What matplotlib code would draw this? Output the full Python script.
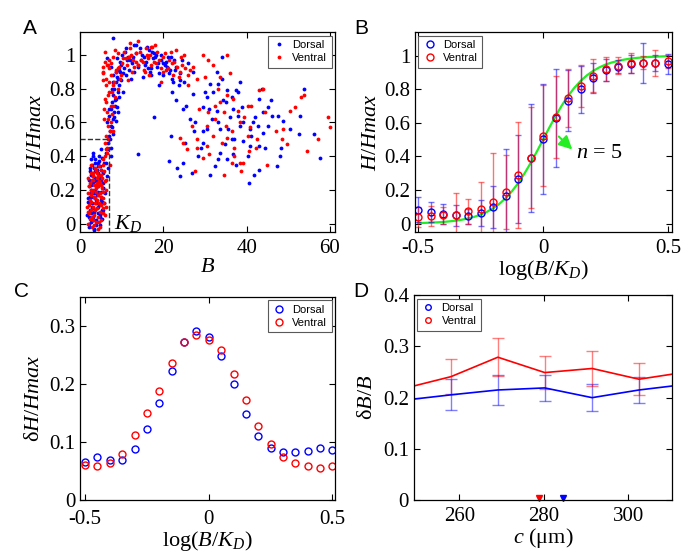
import matplotlib
matplotlib.use('Agg')
import matplotlib.pyplot as plt

plt.rcParams['font.family'] = 'serif'
plt.rcParams['font.serif'] = ['Liberation Serif', 'DejaVu Serif']
plt.rcParams['mathtext.fontset'] = 'custom'
plt.rcParams['mathtext.rm'] = 'Liberation Serif'
plt.rcParams['mathtext.it'] = 'Liberation Serif:italic'
plt.rcParams['mathtext.bf'] = 'Liberation Serif:bold'

# ---- panel A: scatter of H/Hmax against B ----
dorsal_B = [2.1, 2.5, 3.0, 3.4, 3.9, 4.3, 4.8, 5.2, 2.3, 2.8, 3.3, 3.7, 4.1, 4.6, 5.0, 5.5,
            2.0, 2.6, 3.1, 3.6, 4.0, 4.4, 4.9, 5.4, 2.2, 2.7, 3.2, 3.8, 4.2, 4.7, 5.1, 5.6,
            2.4, 2.9, 3.5, 4.5, 3.0, 3.6, 4.2, 2.6, 4.8, 5.3, 3.3, 2.1, 6.0, 5.8,
            1.7, 2.2, 2.7, 3.2, 3.7, 4.2, 4.7, 5.2, 5.7, 1.9, 2.4, 2.9, 3.4, 3.9, 4.4, 4.9, 5.4,
            2.1, 2.6, 3.1, 3.6, 4.1, 4.6, 5.1, 5.6, 2.3, 2.8, 3.3, 3.8, 4.3, 4.8, 5.3,
            2.5, 3.0, 3.5, 4.0, 4.5, 5.0, 3.2, 4.1,
            6.2, 6.6, 6.9, 7.2, 6.5, 7.5, 7.0, 7.8, 7.3, 8.1, 7.6, 8.4, 7.9, 8.7, 8.2, 9.0,
            8.5, 9.3, 7.4, 8.0,
            6.3, 6.8, 7.1, 7.7, 8.2, 8.8, 9.4, 9.8, 7.9, 8.6, 6.7, 7.3, 8.9, 9.6, 10.2, 7.0, 8.3, 9.1, 6.4, 7.6,
            7.5, 8.5, 9.5, 10.5, 11.5, 12.5, 13.5, 14.5, 15.5, 16.5, 17.5, 18.5, 19.5, 20.5,
            21.5, 22.5, 9, 10, 11, 12, 13, 14, 15, 16, 17, 18, 19, 20, 21, 22, 23, 24, 25, 26,
            6.5, 8, 13, 17, 11, 19, 7.8, 24.5, 27,
            8.8, 9.8, 10.8, 11.8, 12.8, 13.8, 14.8, 15.8, 16.8, 17.8, 18.8, 19.8, 20.8, 21.8, 22.8, 23.8,
            10.3, 12.3, 14.3, 16.3, 18.3, 20.3, 22.3, 9.3, 11.3, 13.3, 15.3, 17.3, 19.3, 21.3,
            14, 17.8, 21.4, 21.8, 23.2, 24, 24.6, 25.3, 26.8, 28.2, 27.4, 26.4, 24.8, 23, 22, 24, 27.2,
            53.8, 57.6, 56.1, 52.5, 48.2, 50.5, 48.8, 47.6, 48.0, 47.2, 45.8, 45.2, 43.6, 43.0,
            44.0, 45.2, 43.8, 42.8, 41.6, 40.8, 40.6, 41.8, 43.0, 40.2, 40.8, 39.2, 38.4, 38.0,
            38.8, 38.4, 37.4, 36.4, 36.8, 36.0, 35.6, 36.4, 36.6, 34.8, 35.2, 33.2, 32.4, 31.2,
            34.0, 32.8, 33.2, 32.0, 31.2, 30.4, 29.6, 31.6, 30.4, 29.6, 32.8, 33.6, 34.4, 35.2,
            25.5, 27.5, 29, 31, 33, 35, 37, 39, 41, 43, 30, 34, 38, 42, 46, 29.5, 33.5, 37.5, 44.5, 52.8]
dorsal_H = [-0.02, 0.01, 0.04, -0.03, 0.02, 0.06, -0.01, 0.03, 0.08, 0.10, 0.07, 0.12, 0.09, 0.11, 0.14, 0.08,
            0.15, 0.18, 0.16, 0.20, 0.17, 0.22, 0.19, 0.24, 0.26, 0.23, 0.28, 0.25, 0.30, 0.27, 0.32, 0.21,
            0.33, 0.35, 0.31, 0.37, 0.40, 0.38, 0.34, 0.29, 0.05, 0.13, -0.04, 0.04, 0.18, 0.36,
            0.05, 0.00, 0.06, 0.02, -0.01, 0.10, 0.04, 0.08, 0.12, 0.13, 0.16, 0.12, 0.18, 0.14, 0.19, 0.16, 0.21,
            0.22, 0.20, 0.24, 0.27, 0.25, 0.29, 0.26, 0.30, 0.31, 0.29, 0.33, 0.31, 0.36, 0.34, 0.39,
            0.38, 0.42, 0.36, 0.32, 0.40, 0.44, 0.09, 0.01,
            0.42, 0.48, 0.52, 0.55, 0.60, 0.58, 0.64, 0.62, 0.68, 0.66, 0.72, 0.70, 0.76, 0.74, 0.80, 0.78,
            0.84, 0.82, 0.45, 0.88,
            0.36, 0.44, 0.50, 0.57, 0.63, 0.69, 0.75, 0.85, 0.53, 0.61, 0.33, 0.40, 0.87, 0.90, 0.78, 0.68, 0.73, 0.66, 0.28, 0.80,
            0.93, 0.90, 0.96, 0.92, 0.99, 0.95, 1.01, 0.97, 0.94, 1.03, 0.98, 0.93, 1.00, 0.96,
            0.91, 0.97, 0.86, 1.00, 0.88, 0.97, 0.90, 0.94, 0.87, 1.05, 0.92, 0.99, 0.89, 0.95, 0.99, 0.86, 0.93, 0.89, 0.84, 0.95,
            0.98, 1.10, 1.06, 0.88, 1.04, 0.82, 0.84, 0.97, 0.90,
            0.98, 0.94, 1.02, 0.91, 0.99, 0.93, 1.00, 0.96, 0.90, 1.01, 0.95, 0.88, 0.93, 0.99, 0.91, 0.82,
            0.89, 0.86, 1.04, 0.92, 1.00, 0.94, 0.84, 0.91, 0.97, 1.06, 0.99, 1.02, 0.97, 0.89,
            0.41, 0.63, 0.37, 0.52, 0.33, 0.28, 0.36, 0.48, 0.30, 0.40, 0.55, 0.62, 0.68, 0.73, 0.78, 0.85, 0.77,
            0.80, 0.39, 0.53, 0.53, 0.45, 0.56, 0.61, 0.64, 0.40, 0.34, 0.73, 0.69, 0.80, 0.74,
            0.66, 0.58, 0.54, 0.58, 0.60, 0.56, 0.24, 0.29, 0.32, 0.40, 0.46, 0.49, 0.58, 0.64,
            0.69, 0.84, 0.79, 0.75, 0.68, 0.63, 0.56, 0.50, 0.41, 0.47, 0.38, 0.38, 0.34, 0.29,
            0.99, 0.90, 0.83, 0.78, 0.83, 0.75, 0.69, 0.62, 0.56, 0.48, 0.67, 0.56, 0.73, 0.79,
            0.70, 0.60, 0.45, 0.68, 0.60, 0.72, 0.50, 0.60, 0.52, 0.46, 0.78, 0.86, 0.78, 0.63, 0.64, 0.55, 0.42, 0.35, 0.45, 0.64]

ventral_B = [2.0, 2.4, 2.9, 3.3, 3.8, 4.2, 4.7, 5.1, 5.6, 2.2, 2.7, 3.1, 3.6, 4.0, 4.5, 4.9, 5.4,
             2.5, 3.0, 3.5, 3.9, 4.4, 4.8, 5.3, 2.3, 2.8, 3.4, 4.1, 4.6, 5.0, 5.8, 6.1, 6.3,
             3.2, 3.7, 2.6, 4.3, 5.5, 1.8, 6.0,
             1.6, 2.1, 2.6, 3.1, 3.6, 4.1, 4.6, 5.1, 5.6, 6.1, 1.9, 2.4, 2.9, 3.4, 3.9, 4.4, 4.9, 5.4, 5.9,
             2.2, 2.7, 3.2, 3.7, 4.2, 4.7, 5.2, 5.7, 2.0, 2.5, 3.0, 3.5, 4.0, 4.5, 5.0, 5.5, 6.2,
             3.3, 4.8, 2.8, 4.0,
             6.0, 6.4, 6.8, 5.8, 7.1, 6.6, 7.4, 6.2, 7.7, 7.0, 5.5, 8.0, 6.1, 7.5, 8.3, 5.6,
             9.0, 6.9, 9.5, 7.2,
             5.9, 6.3, 6.7, 5.7, 6.5, 7.3, 5.9, 6.8, 7.9, 6.2, 5.4, 7.6, 8.7, 6.6, 5.9, 7.0, 8.2, 6.4, 9.2, 7.8,
             6, 7, 8, 9, 10, 11, 12, 13, 14, 15, 16, 17, 18, 19, 20, 21, 22, 23, 24, 25, 26, 27, 28,
             8.5, 10.5, 12.5, 14.5, 16.5, 18.5, 20.5, 22.5, 24.5, 11.5, 13.5, 15.5, 5.5, 6.5, 12, 17, 19.5,
             7.3, 8.3, 9.3, 10.3, 11.3, 12.3, 13.3, 14.3, 15.3, 16.3, 17.3, 18.3, 19.3, 20.3, 21.3, 22.3,
             23.3, 24.3, 25.3, 9.8, 11.8, 13.8, 15.8, 17.8, 19.8, 21.8, 23.8, 26.5, 12.8, 16.8,
             24, 24.6, 27.6, 25.6, 28, 26.8,
             59.6, 60.0, 53.8, 54.6, 57.2, 51.6, 50.4, 49.8, 48.8, 48.4, 44.8, 43.8, 40.8, 40.2,
             42.2, 38.4, 38.6, 36.4, 34.6, 37.0, 35.2, 34.0, 32.0, 30.4, 29.6, 30.8, 32.4, 33.6,
             35.2, 36.8, 38.0, 40.2, 39.4, 29.6, 30.8, 31.8, 35.2, 36.0, 33.6, 30.0,
             26, 28.5, 30.5, 32.5, 34.5, 36.5, 38.5, 40.5, 42.5, 44.5, 31, 35, 39, 43, 47, 53, 28, 33, 37, 41]
ventral_H = [0.00, 0.03, -0.02, 0.05, 0.01, 0.04, 0.07, 0.02, 0.09, 0.11, 0.13, 0.10, 0.08, 0.14, 0.12, 0.16, 0.06,
             0.17, 0.20, 0.15, 0.19, 0.22, 0.18, 0.21, 0.24, 0.26, 0.23, 0.27, 0.25, 0.29, 0.12, 0.20, 0.26,
             0.30, 0.32, 0.35, -0.03, 0.35, 0.07, 0.05,
             0.10, 0.06, 0.08, 0.02, 0.12, 0.09, 0.01, 0.11, 0.15, 0.10, 0.18, 0.14, 0.19, 0.16, 0.21, 0.17, 0.23, 0.19, 0.25,
             0.22, 0.20, 0.26, 0.23, 0.28, 0.24, 0.27, 0.31, 0.27, 0.30, 0.28, 0.33, 0.30, 0.34, 0.32, 0.38, 0.44,
             -0.01, -0.02, 0.04, 0.24,
             0.40, 0.45, 0.50, 0.68, 0.55, 0.62, 0.60, 0.72, 0.65, 0.78, 0.85, 0.70, 0.82, 0.88, 0.75, 0.93,
             0.80, 0.92, 0.86, 0.35,
             0.48, 0.52, 0.58, 0.62, 0.66, 0.70, 0.74, 0.76, 0.82, 0.86, 0.90, 0.78, 0.90, 0.94, 0.96, 0.84, 0.84, 0.42, 0.92, 0.55,
             1.02, 0.97, 0.99, 1.01, 0.95, 0.98, 1.04, 0.93, 1.08, 0.96, 1.00, 0.94, 1.06, 0.97, 0.99, 0.92,
             0.95, 1.03, 0.90, 1.00, 0.88, 0.93, 0.86,
             0.91, 1.02, 0.90, 0.97, 0.88, 1.02, 0.91, 0.96, 0.94, 0.85, 1.01, 0.90, 0.89, 0.94, 1.07, 1.05, 0.84,
             0.95, 1.03, 0.93, 0.98, 0.94, 1.00, 0.96, 1.02, 0.91, 0.98, 1.05, 0.95, 0.92, 1.01, 0.97, 0.88,
             0.93, 0.99, 0.92, 0.88, 0.99, 0.94, 1.04, 0.96, 0.90, 1.02, 0.87, 0.91, 0.97, 1.00,
             0.51, 0.48, 0.31, 0.44, 0.50, 0.58,
             0.63, 0.57, 0.76, 0.43, 0.50, 0.69, 0.67, 0.47, 0.56, 0.50, 0.35, 0.80, 0.57, 0.52,
             0.45, 0.36, 0.31, 0.36, 0.29, 0.45, 0.51, 0.48, 0.52, 0.46, 0.39, 0.66, 0.70, 0.72,
             0.76, 0.74, 0.67, 0.70, 0.63, 1.00, 0.97, 0.94, 1.00, 0.89, 0.87, 0.87,
             0.82, 0.68, 0.58, 0.62, 0.66, 0.55, 0.60, 0.43, 0.50, 0.66, 0.41, 0.58, 0.36, 0.79, 0.55, 0.75, 0.45, 0.80, 0.40, 0.70]
KD = 7.0

# ---- panel B: binned H/Hmax against log(B/KD) ----
logB = [-0.5, -0.45, -0.4, -0.35, -0.3, -0.25, -0.2, -0.15, -0.1, -0.05, 0.0,
        0.05, 0.1, 0.15, 0.2, 0.25, 0.3, 0.35, 0.4, 0.45, 0.5]
dorsal_mean = [0.083, 0.069, 0.058, 0.050, 0.044, 0.063, 0.097, 0.163, 0.266, 0.391, 0.504,
               0.629, 0.732, 0.800, 0.865, 0.913, 0.935, 0.950, 0.956, 0.956, 0.950]
dorsal_err = [0.075, 0.062, 0.060, 0.063, 0.045, 0.080, 0.125, 0.280, 0.260, 0.320, 0.330,
              0.290, 0.180, 0.140, 0.090, 0.065, 0.040, 0.055, 0.120, 0.050, 0.060]
ventral_mean = [0.040, 0.044, 0.050, 0.054, 0.073, 0.087, 0.129, 0.189, 0.288, 0.393, 0.524,
                0.635, 0.748, 0.821, 0.881, 0.920, 0.940, 0.956, 0.958, 0.956, 0.966]
ventral_err = [0.060, 0.060, 0.050, 0.130, 0.074, 0.160, 0.290, 0.220, 0.315, 0.300, 0.300,
               0.245, 0.170, 0.125, 0.100, 0.070, 0.050, 0.060, 0.040, 0.077, 0.040]
fit_x = [-0.5, -0.475, -0.45, -0.425, -0.4, -0.375, -0.35, -0.325, -0.3, -0.275, -0.25,
         -0.225, -0.2, -0.175, -0.15, -0.125, -0.1, -0.075, -0.05, -0.025, 0.0,
         0.025, 0.05, 0.075, 0.1, 0.125, 0.15, 0.175, 0.2, 0.225, 0.25,
         0.275, 0.3, 0.325, 0.35, 0.375, 0.4, 0.425, 0.45, 0.475, 0.5]
fit_y = [0.0032, 0.0042, 0.0056, 0.0074, 0.0099, 0.0132, 0.0175, 0.0232, 0.0307, 0.0404, 0.0532,
         0.0698, 0.0909, 0.1176, 0.151, 0.1916, 0.240, 0.2966, 0.360, 0.4285, 0.5,
         0.5715, 0.640, 0.7034, 0.760, 0.8084, 0.849, 0.8824, 0.909, 0.9302, 0.947,
         0.9596, 0.969, 0.9768, 0.983, 0.9868, 0.990, 0.9926, 0.994, 0.9958, 0.997]

# ---- panel C: spread of H/Hmax ----
dorsal_dH = [0.066, 0.074, 0.069, 0.069, 0.088, 0.122, 0.168, 0.222, 0.272, 0.291, 0.281,
             0.248, 0.200, 0.149, 0.111, 0.089, 0.082, 0.082, 0.085, 0.089, 0.086]
ventral_dH = [0.061, 0.059, 0.063, 0.079, 0.112, 0.150, 0.188, 0.237, 0.273, 0.285, 0.276,
              0.259, 0.218, 0.173, 0.128, 0.097, 0.075, 0.063, 0.058, 0.055, 0.058]

# ---- panel D: dB/B against position c ----
c_um = [246.9, 258.0, 269.1, 280.2, 291.4, 302.5, 313.6]
dorsal_dB = [0.195, 0.2055, 0.215, 0.219, 0.200, 0.215, 0.226]
dorsal_dB_err = [0.03, 0.030, 0.030, 0.026, 0.027, 0.025, 0.03]
ventral_dB = [0.218, 0.241, 0.279, 0.249, 0.257, 0.236, 0.250]
ventral_dB_err = [0.03, 0.034, 0.037, 0.033, 0.035, 0.031, 0.03]
dorsal_marker_c = 284.4
ventral_marker_c = 278.9

blue = '#0000ff'
red = '#ff0000'
green = '#22ee22'
leg_font = {'family': 'Liberation Sans', 'size': 8}


def style(ax, xpad=5):
    ax.tick_params(direction='in', top=True, right=True, length=4, width=0.8, labelsize=15)
    ax.tick_params(axis='x', pad=xpad)
    for s in ax.spines.values():
        s.set_linewidth(0.9)


def legend(ax, handles, loc):
    lg = ax.legend(handles=handles, labels=['Dorsal', 'Ventral'], loc=loc, prop=leg_font,
                   fancybox=False, edgecolor='0.35', framealpha=1, handlelength=1.2,
                   handletextpad=0.6, borderpad=0.4, borderaxespad=0.3, labelspacing=0.3)
    lg.get_frame().set_linewidth(0.8)


fig = plt.figure(figsize=(6.85, 5.55), dpi=100)
axA = fig.add_axes([0.117, 0.582, 0.372, 0.360])
axB = fig.add_axes([0.606, 0.582, 0.375, 0.360])
axC = fig.add_axes([0.117, 0.099, 0.372, 0.366])
axD = fig.add_axes([0.604, 0.099, 0.377, 0.369])

# A
hA1, = axA.plot(dorsal_B, dorsal_H, '.', color=blue, ms=5.5, mew=0)
hA2, = axA.plot(ventral_B, ventral_H, '.', color=red, ms=5.5, mew=0)
axA.plot([0, KD], [0.5, 0.5], '--', color='0.2', lw=1)
axA.plot([KD, KD], [0.5, -0.05], '--', color='0.2', lw=1)
axA.text(KD + 1.2, -0.03, '$K_D$', fontsize=16)
axA.set_xlim(0, 61.2)
axA.set_ylim(-0.05, 1.135)
axA.set_xticks([0, 20, 40, 60])
axA.set_yticks([0, 0.2, 0.4, 0.6, 0.8, 1])
axA.set_yticklabels(['0', '0.2', '0.4', '0.6', '0.8', '1'])
axA.set_xlabel('$B$', fontsize=16, labelpad=0)
axA.set_ylabel('$H/Hmax$', fontsize=16, labelpad=2)
style(axA)
legend(axA, [hA1, hA2], 'upper right')

# B
axB.plot(fit_x, fit_y, color=green, lw=1.6, zorder=1)
hB1 = axB.errorbar(logB, dorsal_mean, yerr=dorsal_err, fmt='o', ms=5, mfc='none', mec=blue,
                   mew=1, ecolor=(0, 0, 1, 0.55), elinewidth=1, capsize=2.5)
hB2 = axB.errorbar(logB, ventral_mean, yerr=ventral_err, fmt='o', ms=5, mfc='none', mec=red,
                   mew=1, ecolor=(1, 0, 0, 0.55), elinewidth=1, capsize=2.5)
axB.annotate('', xy=(0.125, 0.43), xytext=(0.055, 0.53),
             arrowprops=dict(arrowstyle='-|>,head_length=0.8,head_width=0.4', color=green, lw=1.5))
axB.text(0.13, 0.42, '$n$ = 5', fontsize=16, va='center')
axB.set_xlim(-0.512, 0.516)
axB.set_ylim(-0.05, 1.14)
axB.set_xticks([-0.5, 0, 0.5])
axB.set_xticklabels(['-0.5', '0', '0.5'])
axB.set_yticks([0, 0.2, 0.4, 0.6, 0.8, 1])
axB.set_yticklabels(['0', '0.2', '0.4', '0.6', '0.8', '1'])
axB.set_xlabel('log($B$/$K_D$)', fontsize=16, labelpad=0)
axB.set_ylabel('$H/Hmax$', fontsize=16, labelpad=2)
style(axB)
legend(axB, [hB1[0], hB2[0]], 'upper left')

# C
hC1, = axC.plot(logB, dorsal_dH, 'o', ms=5, mfc='none', mec=blue, mew=1)
hC2, = axC.plot(logB, ventral_dH, 'o', ms=5, mfc='none', mec=red, mew=1)
axC.set_xlim(-0.52, 0.51)
axC.set_ylim(0, 0.35)
axC.set_xticks([-0.5, 0, 0.5])
axC.set_xticklabels(['-0.5', '0', '0.5'])
axC.set_yticks([0, 0.1, 0.2, 0.3])
axC.set_yticklabels(['0', '0.1', '0.2', '0.3'])
axC.set_xlabel('log($B$/$K_D$)', fontsize=16, labelpad=0)
axC.set_ylabel('δ$H/Hmax$', fontsize=16, labelpad=4)
style(axC, xpad=7)
legend(axC, [hC1, hC2], 'upper right')

# D
axD.errorbar(c_um, dorsal_dB, yerr=dorsal_dB_err, fmt='none', ecolor=(0, 0, 1, 0.5),
             elinewidth=1, capsize=4)
axD.errorbar(c_um, ventral_dB, yerr=ventral_dB_err, fmt='none', ecolor=(1, 0, 0, 0.5),
             elinewidth=1, capsize=4)
axD.plot(c_um, dorsal_dB, color=blue, lw=1.2)
axD.plot(c_um, ventral_dB, color=red, lw=1.2)
axD.plot([ventral_marker_c], [0.004], 'v', color=red, ms=5, clip_on=False)
axD.plot([dorsal_marker_c], [0.004], 'v', color=blue, ms=5, clip_on=False)
hD1, = axD.plot([], [], 'o', ms=4, mfc='none', mec=blue, mew=1)
hD2, = axD.plot([], [], 'o', ms=4, mfc='none', mec=red, mew=1)
axD.set_xlim(249.2, 310.3)
axD.set_ylim(0, 0.4)
axD.set_xticks([260, 280, 300])
axD.set_yticks([0, 0.1, 0.2, 0.3, 0.4])
axD.set_yticklabels(['0', '0.1', '0.2', '0.3', '0.4'])
axD.set_xlabel('$c$ (μm)', fontsize=16, labelpad=0)
axD.set_ylabel('δ$B$/$B$', fontsize=16, labelpad=4)
style(axD)
legend(axD, [hD1, hD2], 'upper left')

for lbl, x, y in [('A', 0.033, 0.948), ('B', 0.517, 0.948), ('C', 0.02, 0.475), ('D', 0.515, 0.475)]:
    fig.text(x, y, lbl, fontsize=15, family='Liberation Sans', ha='left', va='center')

fig.savefig('out.png', dpi=100)
